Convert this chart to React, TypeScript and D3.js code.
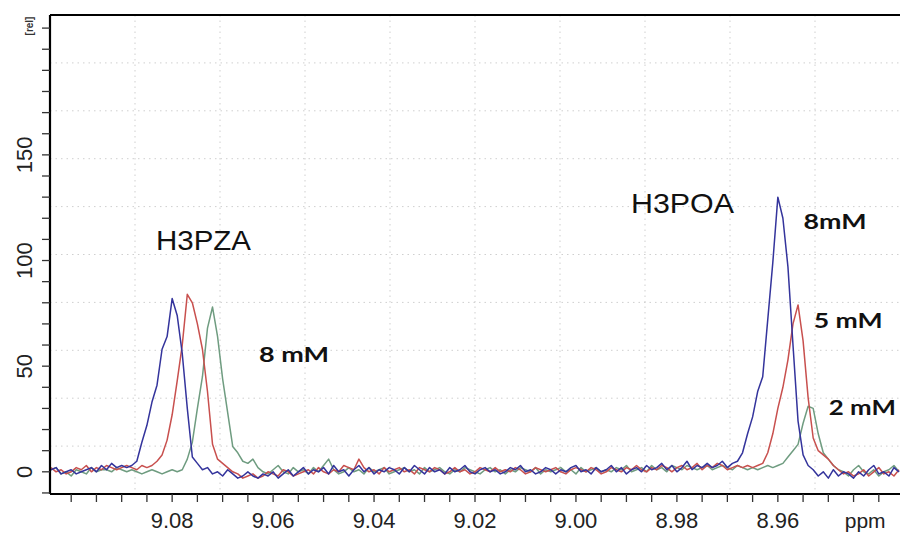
import React from "react";
import * as d3 from "d3";

const width = 900;
const height = 536;
const margin = { top: 15, right: 0, bottom: 42, left: 50 };
const innerWidth = width - margin.left - margin.right;
const innerHeight = height - margin.top - margin.bottom;

// chemical shift grid: first point and spacing (ppm)
const ppmStart = 9.104;
const ppmStep = 0.001;

// intensities, one per grid point
const blueSeries = [
  1, 2, -1, 0, 1, -1, 0, 1, 2, 0,
  3, 1, 4, 2, 3, 2, 3, 5, 14, 22,
  33, 41, 58, 64, 82, 74, 56, 30, 7, 4,
  1, 2, -1, 0, -2, 1, -1, -3, -2, 0,
  -2, -3, -1, -2, 0, -3, -1, 1, -2, 0,
  2, -1, 1, 0, 2, -1, 3, 0, 1, -2,
  1, 3, 0, 2, -1, 1, 0, 2, 1, -1,
  2, 0, 3, 1, -1, 2, 0, 1, -1, 2,
  0, 1, 3, 0, -1, 1, 2, 0, 1, -1,
  0, 2, 1, 3, 0, 1, -1, 0, 2, 1,
  -1, 1, 0, 2, 3, 0, 1, -1, 2, 0,
  1, 3, 0, 2, -1, 1, 2, 0, 3, 1,
  2, 4, 1, 3, 0, 2, 5, 1, 3, 2,
  4, 2, 3, 5, 2, 4, 5, 9, 18, 26,
  38, 45, 72, 99, 130, 120, 97, 60, 24, 8,
  3, 1, -2, 0, -3, 1, -2, 0, -1, -3,
  0, -2, 1, 3, -1, 0, -2, 2, 0,
];

const redSeries = [
  2, 0, 1, -1, 0, 2, 1, 3, 0, 2,
  1, 3, 2, 1, 2, 3, 2, 1, 3, 2,
  3, 5, 8, 15, 27, 43, 60, 84, 80, 70,
  58, 38, 13, 6, 4, 2, 0, -1, -3, -2,
  -1, -3, -2, 0, -1, -2, 1, 0, -2, -1,
  0, 1, -1, 2, 0, -1, 1, 0, 3, 2,
  1, 6, 2, 0, 1, -1, 2, 0, 1, 2,
  0, 1, -1, 2, 1, 0, 2, 1, -1, 0,
  2, 0, 1, -1, 0, 2, 1, 0, 2, 0,
  1, 0, 2, 1, -1, 0, 2, 1, 0, 1,
  2, 0, -1, 1, 2, 1, 0, 2, 1, -1,
  0, 2, 1, 0, 2, 1, 3, 1, 0, 2,
  1, 3, 2, 0, 2, 3, 1, 2, 4, 1,
  3, 2, 4, 3, 1, 2, 3, 2, 3, 2,
  3, 4, 9, 18, 30, 40, 53, 70, 79, 62,
  35, 16, 10, 8, 6, 3, 1, -1, 0, -2,
  -1, 1, -2, 0, 2, -1, 0, -2, 1,
];

const greenSeries = [
  1, 2, -1, 0, -2, 1, 0, -1, 2, 0,
  1, 1, 0, 2, 1, 0, 1, 0, -1, 0,
  1, 0, -1, 0, 1, 0, 1, 6, 14, 30,
  45, 68, 78, 64, 44, 28, 12, 9, 5, 4,
  6, 2, 0, -1, 1, 3, 0, -1, 2, 0,
  1, -1, 2, 0, 3, 6, 1, -1, 0, 2,
  0, 1, -1, 2, 0, 1, 2, -1, 0, 1,
  2, 0, 1, -1, 2, 0, 1, 2, 0, -1,
  1, 0, 2, 1, 0, -1, 1, 2, 0, 1,
  -1, 1, 0, 2, 1, 0, 2, -1, 1, 0,
  1, 2, 0, 1, -1, 2, 0, 1, 2, 0,
  1, 0, 2, 1, 3, 0, 1, 2, 0, 3,
  1, 2, 0, 3, 2, 1, 3, 2, 1, 2,
  3, 1, 2, 3, 2, 1, 3, 2, 1, 2,
  1, 2, 3, 2, 3, 4, 7, 10, 13, 23,
  31, 30, 18, 9, 6, 3, 1, 0, -2, 1,
  3, 0, -1, 1, -2, 0, 1, 3, 0,
];

const seriesColors = ["#6f9c80", "#c8504e", "#34349c"];
const yTickLabels = [0, 50, 100, 150];
const xTickLabels = ["9.08", "9.06", "9.04", "9.02", "9.00", "8.98", "8.96"];

const annotations = [
  { text: "H3PZA", ppm: 9.0832, value: 105, size: 28, bold: false, len: 95 },
  { text: "H3POA", ppm: 8.9891, value: 122.4, size: 28, bold: false, len: 103 },
  { text: "8 mM", ppm: 9.0628, value: 52, size: 21, bold: true, len: 70 },
  { text: "8mM", ppm: 8.9549, value: 115, size: 21, bold: true, len: 63 },
  { text: "5 mM", ppm: 8.9529, value: 68, size: 21, bold: true, len: 69 },
  { text: "2 mM", ppm: 8.9499, value: 27, size: 21, bold: true, len: 67 },
];

export default function App() {
  const x = d3.scaleLinear().domain([9.1042, 8.9358]).range([0, innerWidth]);
  const y = d3.scaleLinear().domain([-10.5, 216.2]).range([innerHeight, 0]);

  const line = d3
    .line<number>()
    .x((_, i) => x(ppmStart - i * ppmStep))
    .y((d) => y(d))
    .curve(d3.curveLinear);

  const yTicks = d3.range(-10, 211, 10);
  const xTicks = d3.range(0, 33).map((i) => 9.1 - i * 0.005);
  const grid = d3.range(1, 10).map((i) => i / 10);

  return (
    <svg width={width} height={height} style={{ position: "absolute", left: 0, top: 0, background: "#fff" }}>
      <g transform={`translate(${margin.left},${margin.top})`}>
        {grid.map((f) => (
          <g key={f}>
            <line x1={0} x2={innerWidth} y1={f * innerHeight} y2={f * innerHeight} stroke="#cfcfcf" strokeWidth={1} strokeDasharray="1.5,4" />
            <line x1={f * innerWidth} x2={f * innerWidth} y1={0} y2={innerHeight} stroke="#cfcfcf" strokeWidth={1} strokeDasharray="1.5,4" />
          </g>
        ))}

        {[greenSeries, redSeries, blueSeries].map((s, k) => (
          <path key={k} d={line(s) ?? ""} fill="none" stroke={seriesColors[k]} strokeWidth={1.5} strokeLinejoin="round" />
        ))}

        <line x1={0} x2={innerWidth} y1={0} y2={0} stroke="#000" strokeWidth={2} />
        <line x1={0} x2={0} y1={0} y2={innerHeight} stroke="#000" strokeWidth={2.2} />
        <line x1={0} x2={innerWidth} y1={innerHeight} y2={innerHeight} stroke="#000" strokeWidth={2.2} />

        {yTicks.map((t) => (
          <line key={t} x1={-8} x2={0} y1={y(t)} y2={y(t)} stroke="#333" strokeWidth={1.3} />
        ))}
        {xTicks.map((t) => (
          <line key={t} x1={x(t)} x2={x(t)} y1={innerHeight} y2={innerHeight + 8} stroke="#333" strokeWidth={1.3} />
        ))}

        {yTickLabels.map((t) => (
          <text
            key={t}
            transform={`translate(-18,${y(t)}) rotate(-90)`}
            textAnchor="middle"
            fontFamily="Liberation Sans, Arial, sans-serif"
            fontSize={22}
            fill="#222"
          >
            {t}
          </text>
        ))}
        <text
          transform={`translate(-17,${y(211)}) rotate(-90)`}
          textAnchor="middle"
          fontFamily="Liberation Sans, Arial, sans-serif"
          fontSize={10}
          fontWeight="bold"
          fill="#333"
        >
          [rel]
        </text>

        {xTickLabels.map((t) => (
          <text
            key={t}
            x={x(+t)}
            y={innerHeight + 34}
            textAnchor="middle"
            fontFamily="Liberation Sans, Arial, sans-serif"
            fontSize={22}
            fill="#222"
          >
            {t}
          </text>
        ))}
        <text
          x={x(8.9427)}
          y={innerHeight + 34}
          textAnchor="middle"
          fontFamily="Liberation Sans, Arial, sans-serif"
          fontSize={21}
          fill="#222"
        >
          ppm
        </text>

        {annotations.map((a) => (
          <text
            key={a.text}
            x={x(a.ppm)}
            y={y(a.value)}
            fontFamily={a.bold ? "Lato, Liberation Sans, sans-serif" : "Liberation Sans, Arial, sans-serif"}
            fontWeight={a.bold ? "bold" : "normal"}
            fontSize={a.size}
            textLength={a.len}
            lengthAdjust="spacingAndGlyphs"
            fill="#111"
          >
            {a.text}
          </text>
        ))}
      </g>
    </svg>
  );
}
